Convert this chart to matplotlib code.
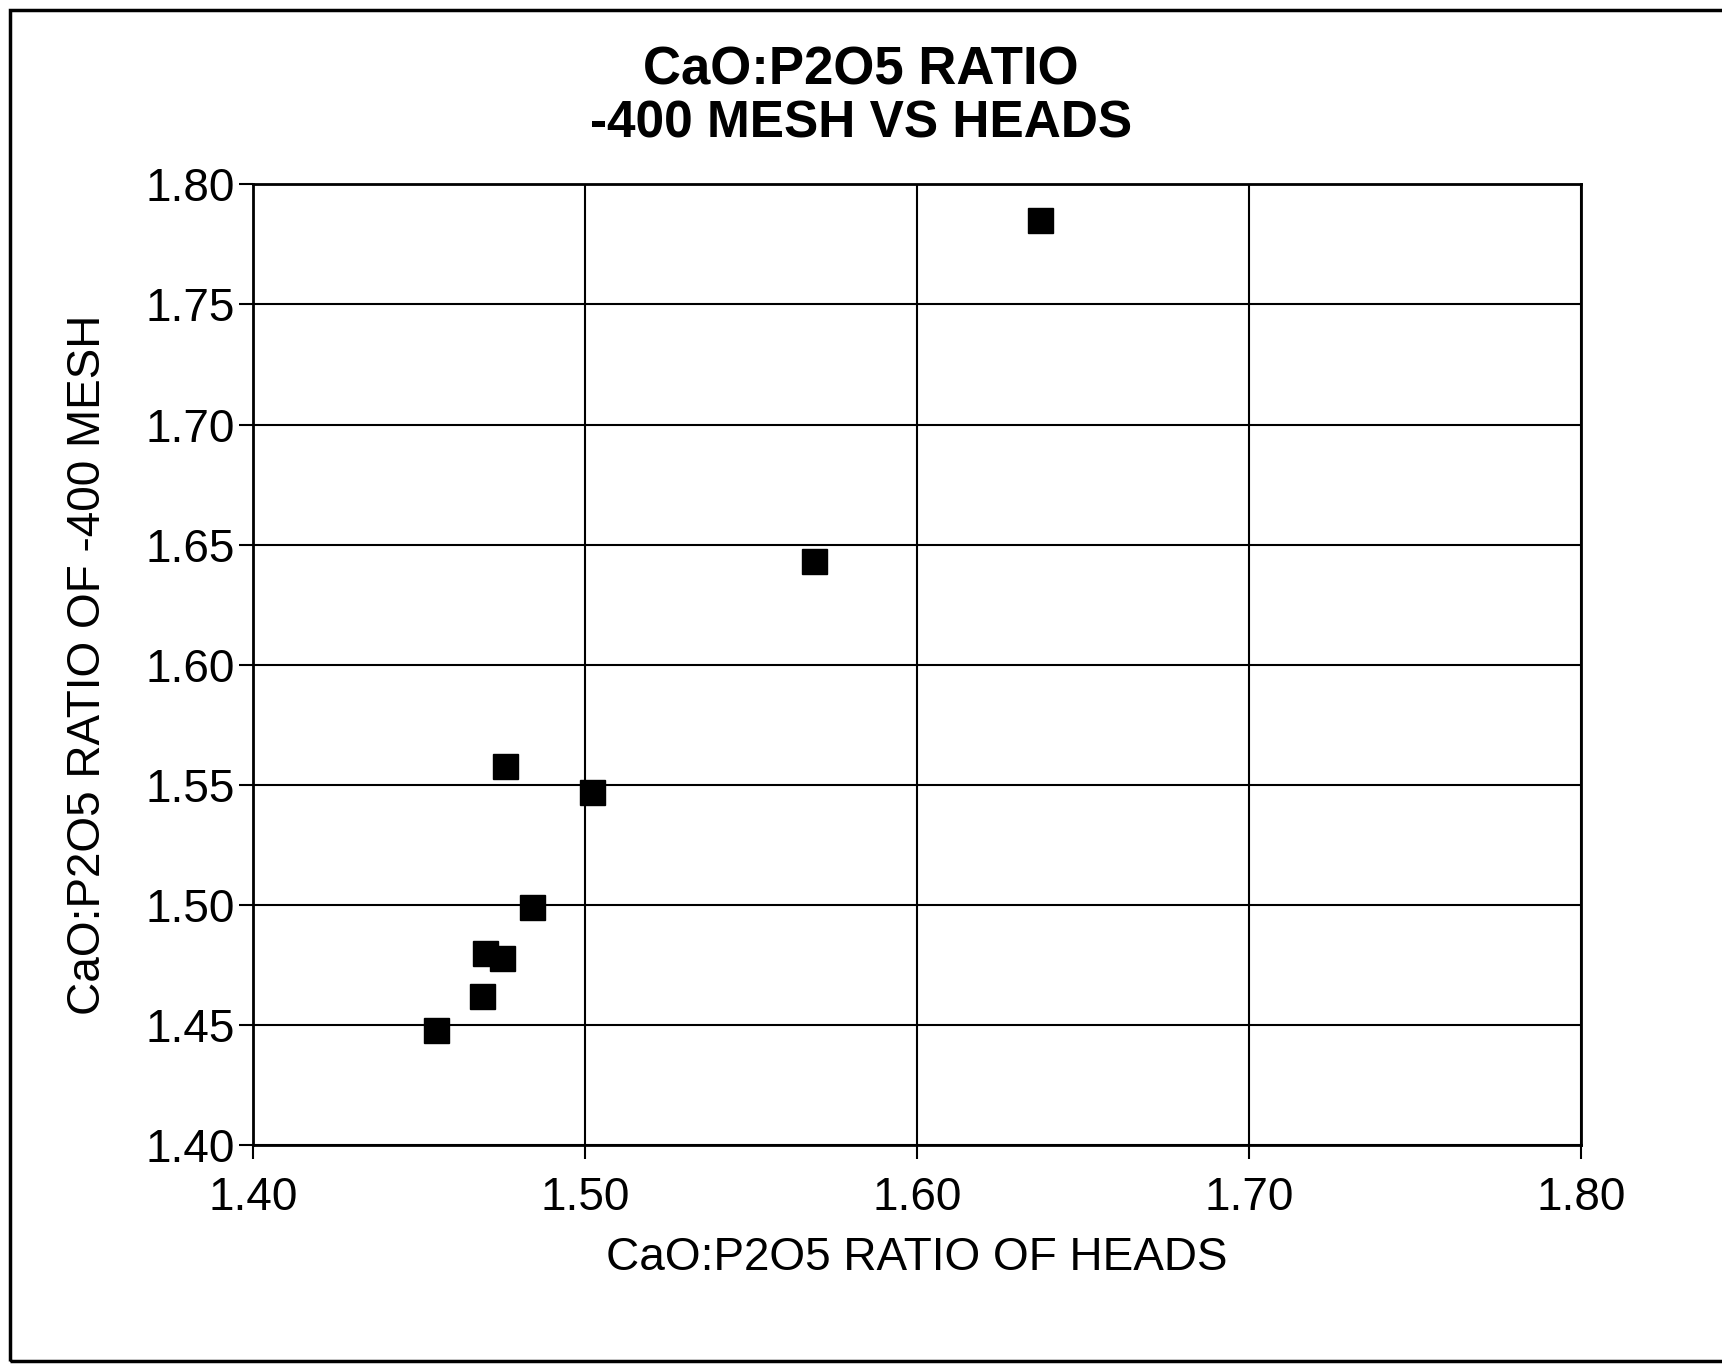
import matplotlib.pyplot as plt
from matplotlib.patches import Rectangle

plt.rcParams['font.family'] = ['Liberation Sans', 'DejaVu Sans']

# CaO:P2O5 ratio of heads vs -400 mesh
heads = [1.637, 1.569, 1.476, 1.502, 1.484, 1.470, 1.475, 1.469, 1.455]
mesh400 = [1.785, 1.643, 1.558, 1.547, 1.499, 1.480, 1.478, 1.462, 1.448]

xticks = [1.40, 1.50, 1.60, 1.70, 1.80]
yticks = [1.40, 1.45, 1.50, 1.55, 1.60, 1.65, 1.70, 1.75, 1.80]

fig = plt.figure(figsize=(17.22, 13.65), dpi=100)
ax = fig.add_axes([0.147, 0.161, 0.771, 0.704])

ax.plot(heads, mesh400, 's', color='black', markersize=18, zorder=3)

ax.set_xlim(1.40, 1.80)
ax.set_ylim(1.40, 1.80)
ax.set_xticks(xticks)
ax.set_yticks(yticks)
ax.set_xticklabels(['%.2f' % v for v in xticks])
ax.set_yticklabels(['%.2f' % v for v in yticks])
ax.tick_params(direction='out', length=10, width=1.5, labelsize=33)
ax.tick_params(axis='x', pad=12)
ax.tick_params(axis='y', pad=3)
ax.grid(True, color='black', linewidth=1.5)
for s in ax.spines.values():
    s.set_linewidth(2)

ax.set_xlabel('CaO:P2O5 RATIO OF HEADS', fontsize=33, labelpad=12)
ax.set_ylabel('CaO:P2O5 RATIO OF -400 MESH', fontsize=33, labelpad=26)

fig.text(0.5, 0.948, 'CaO:P2O5 RATIO', ha='center', va='center',
         fontsize=38, fontweight='bold')
fig.text(0.5, 0.909, '-400 MESH VS HEADS', ha='center', va='center',
         fontsize=37, fontweight='bold')

fig.patches.append(Rectangle((0.006, 0.003), 0.995, 0.99, transform=fig.transFigure,
                             fill=False, edgecolor='black', linewidth=2.5))

plt.savefig('out.png', dpi=100)
